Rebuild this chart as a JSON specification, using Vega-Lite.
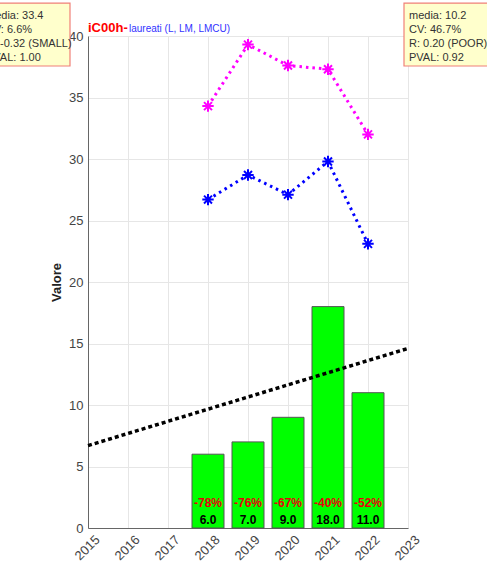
{
  "$schema": "https://vega.github.io/schema/vega-lite/v6.json",
  "width": 320,
  "height": 492,
  "autosize": {"type": "none"},
  "padding": {"left": 88, "top": 36, "right": 79, "bottom": 35},
  "background": "white",
  "config": {
    "font": "Liberation Sans",
    "view": {"stroke": null},
    "axis": {"labelFont": "Liberation Sans", "titleFont": "Liberation Sans"}
  },
  "datasets": {
    "bars": [
      {"year": 2018, "value": 6, "label": "6.0", "pct": "-78%"},
      {"year": 2019, "value": 7, "label": "7.0", "pct": "-76%"},
      {"year": 2020, "value": 9, "label": "9.0", "pct": "-67%"},
      {"year": 2021, "value": 18, "label": "18.0", "pct": "-40%"},
      {"year": 2022, "value": 11, "label": "11.0", "pct": "-52%"}
    ],
    "pink": [
      {"year": 2018, "value": 34.3},
      {"year": 2019, "value": 39.3},
      {"year": 2020, "value": 37.6},
      {"year": 2021, "value": 37.3},
      {"year": 2022, "value": 32.0}
    ],
    "blue": [
      {"year": 2018, "value": 26.7},
      {"year": 2019, "value": 28.7},
      {"year": 2020, "value": 27.1},
      {"year": 2021, "value": 29.8},
      {"year": 2022, "value": 23.1}
    ],
    "trend": [
      {"year": 2015, "value": 6.7},
      {"year": 2023, "value": 14.6}
    ],
    "boxes": [
      {"year": 2012.2, "year2": 2014.55, "value": 42.68, "value2": 37.56},
      {"year": 2022.9, "year2": 2025.5, "value": 42.68, "value2": 37.56}
    ],
    "info": [
      {"year": 2012.45, "value": 41.66, "text": "media: 33.4"},
      {"year": 2012.45, "value": 40.49, "text": "CV: 6.6%"},
      {"year": 2012.45, "value": 39.35, "text": "R: -0.32 (SMALL)"},
      {"year": 2012.45, "value": 38.21, "text": "PVAL: 1.00"},
      {"year": 2023.025, "value": 41.66, "text": "media: 10.2"},
      {"year": 2023.025, "value": 40.49, "text": "CV: 46.7%"},
      {"year": 2023.025, "value": 39.35, "text": "R: 0.20 (POOR)"},
      {"year": 2023.025, "value": 38.21, "text": "PVAL: 0.92"}
    ],
    "title1": [{"year": 2015, "value": 40.65, "text": "iC00h-"}],
    "title2": [{"year": 2016.025, "value": 40.6, "text": "laureati (L, LM, LMCU)"}]
  },
  "encoding": {
    "x": {
      "field": "year", "type": "quantitative",
      "scale": {"domain": [2015, 2023], "nice": false, "zero": false, "padding": 0},
      "axis": {
        "values": [2015, 2016, 2017, 2018, 2019, 2020, 2021, 2022, 2023],
        "format": "d", "labelAngle": -45, "labelFontSize": 13, "labelColor": "#444444",
        "grid": true, "gridColor": "#e6e6e6", "domainColor": "#666666",
        "ticks": false, "labelPadding": 5, "labelOffset": 5, "title": null, "labelFlush": false, "labelOverlap": false
      }
    },
    "y": {
      "field": "value", "type": "quantitative",
      "scale": {"domain": [0, 40], "nice": false},
      "axis": {
        "values": [0, 5, 10, 15, 20, 25, 30, 35, 40],
        "labelFontSize": 13, "labelColor": "#444444",
        "grid": true, "gridColor": "#e6e6e6", "domainColor": "#666666",
        "ticks": false, "labelPadding": 5, "labelFlush": false, "labelOverlap": false,
        "title": "Valore", "titleFontSize": 13, "titleFontWeight": "bold", "titleColor": "#222222", "titlePadding": 5
      }
    }
  },
  "layer": [
    {
      "data": {"name": "bars"},
      "mark": {"type": "bar", "size": 32, "fill": "#00ff00", "stroke": "#555555", "strokeWidth": 1}
    },
    {
      "data": {"name": "trend"},
      "mark": {"type": "line", "color": "black", "strokeWidth": 3.5, "strokeDash": [4, 3]}
    },
    {
      "data": {"name": "pink"},
      "mark": {"type": "line", "color": "#ff00ff", "strokeWidth": 3, "strokeDash": [2.5, 4]}
    },
    {
      "data": {"name": "pink"},
      "mark": {"type": "point", "shape": "M-1,0L1,0M0,-1L0,1M-0.7,-0.7L0.7,0.7M-0.7,0.7L0.7,-0.7", "filled": false, "stroke": "#ff00ff", "strokeWidth": 2, "size": 130, "opacity": 1}
    },
    {
      "data": {"name": "blue"},
      "mark": {"type": "line", "color": "#0000ff", "strokeWidth": 3, "strokeDash": [2.5, 4]}
    },
    {
      "data": {"name": "blue"},
      "mark": {"type": "point", "shape": "M-1,0L1,0M0,-1L0,1M-0.7,-0.7L0.7,0.7M-0.7,0.7L0.7,-0.7", "filled": false, "stroke": "#0000ff", "strokeWidth": 2, "size": 130, "opacity": 1}
    },
    {
      "data": {"name": "bars"},
      "mark": {"type": "text", "color": "#e8000b", "fontSize": 12, "fontWeight": "bold", "baseline": "middle", "dy": -25},
      "encoding": {
        "y": {
          "datum": 0, "type": "quantitative",
          "scale": {"domain": [0, 40], "nice": false},
          "axis": {
            "values": [0, 5, 10, 15, 20, 25, 30, 35, 40],
            "labelFontSize": 13, "labelColor": "#444444",
            "grid": true, "gridColor": "#e6e6e6", "domainColor": "#666666",
            "ticks": false, "labelPadding": 5, "labelFlush": false, "labelOverlap": false,
            "title": "Valore", "titleFontSize": 13, "titleFontWeight": "bold", "titleColor": "#222222", "titlePadding": 5
          }
        },
        "text": {"field": "pct"}
      }
    },
    {
      "data": {"name": "bars"},
      "mark": {"type": "text", "color": "#000000", "fontSize": 12, "fontWeight": "bold", "baseline": "middle", "dy": -8},
      "encoding": {
        "y": {
          "datum": 0, "type": "quantitative",
          "scale": {"domain": [0, 40], "nice": false},
          "axis": {
            "values": [0, 5, 10, 15, 20, 25, 30, 35, 40],
            "labelFontSize": 13, "labelColor": "#444444",
            "grid": true, "gridColor": "#e6e6e6", "domainColor": "#666666",
            "ticks": false, "labelPadding": 5, "labelFlush": false, "labelOverlap": false,
            "title": "Valore", "titleFontSize": 13, "titleFontWeight": "bold", "titleColor": "#222222", "titlePadding": 5
          }
        },
        "text": {"field": "label"}
      }
    },
    {
      "data": {"name": "boxes"},
      "mark": {"type": "rect", "fill": "#ffffcc", "stroke": "#f08078", "strokeWidth": 1.2},
      "encoding": {
        "x2": {"field": "year2"},
        "y2": {"field": "value2"}
      }
    },
    {
      "data": {"name": "info"},
      "mark": {"type": "text", "color": "#333333", "fontSize": 11, "align": "left", "baseline": "middle"},
      "encoding": {"text": {"field": "text"}}
    },
    {
      "data": {"name": "title1"},
      "mark": {"type": "text", "color": "#ff0000", "fontSize": 13, "fontWeight": "bold", "align": "left", "baseline": "middle"},
      "encoding": {"text": {"field": "text"}}
    },
    {
      "data": {"name": "title2"},
      "mark": {"type": "text", "color": "#3333ff", "fontSize": 10, "align": "left", "baseline": "middle"},
      "encoding": {"text": {"field": "text"}}
    }
  ]
}
